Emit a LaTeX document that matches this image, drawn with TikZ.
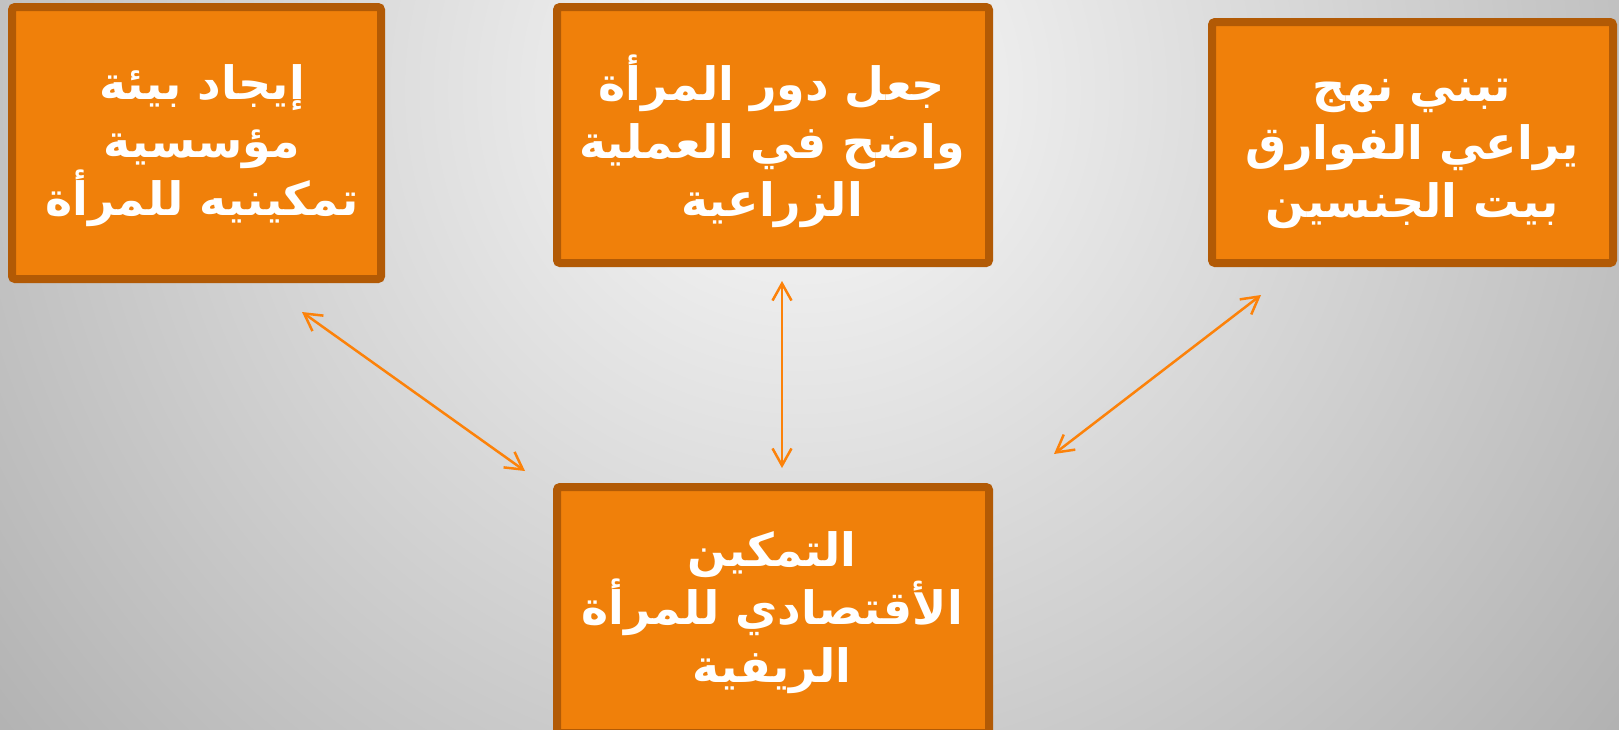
\documentclass[tikz,border=0pt]{standalone}
\usepackage{fontspec}
\newfontfamily\arabicfont[Script=Arabic]{DejaVu Sans}
\TeXXeTstate=1
\usetikzlibrary{arrows.meta}
\definecolor{boxfill}{RGB}{240,128,10}
\definecolor{boxline}{RGB}{178,90,5}
\definecolor{arrowc}{RGB}{252,130,10}
\definecolor{bginner}{RGB}{250,250,250}
\definecolor{bgouter}{RGB}{170,170,170}
\tikzset{
  box/.style={draw=boxline, fill=boxfill, line width=8pt, rounded corners=3pt, inner sep=0pt},
  txt/.style={text=white, align=center, inner sep=0pt,
    font=\arabicfont\bfseries\fontsize{46}{58}\selectfont},
  link/.style={draw=arrowc, line width=2.5pt,
    {Straight Barb[length=17pt,width=19pt]}-{Straight Barb[length=17pt,width=19pt]}}
}
\begin{document}
\begin{tikzpicture}[x=1pt,y=-1pt]
\useasboundingbox (0,0) rectangle (1619,729);
\begin{scope}
\clip (0,0) rectangle (1619,729);
\fill[inner color=bginner, outer color=bgouter] (800,90) circle (1150);
\end{scope}
\node[box, minimum width=369pt, minimum height=272pt] (env) at (196.5,143) {};
\node[box, minimum width=432pt, minimum height=256pt] (role) at (773,135) {};
\node[box, minimum width=401pt, minimum height=241pt] (gender) at (1412.5,142.5) {};
\node[box, minimum width=432pt, minimum height=246pt] (emp) at (773,610) {};
\node[txt] (envt) at (202,146)
  {\beginR إيجاد بيئة\endR\\ \beginR مؤسسية\endR\\ \beginR تمكينيه للمرأة\endR};
\node[txt] (rolet) at (772,141)
  {\beginR جعل دور المرأة\endR\\ \beginR واضح في العملية\endR\\ \beginR الزراعية\endR};
\node[txt] (gendert) at (1412,154)
  {\beginR تبني نهج\endR\\ \beginR يراعي الفوارق\endR\\ \beginR بيت الجنسين\endR};
\node[txt] (empt) at (772,613)
  {\beginR التمكين\endR\\ \beginR الأقتصادي للمرأة\endR\\ \beginR الريفية\endR};
\coordinate (a1s) at (302,312);
\coordinate (a1e) at (525,471);
\coordinate (a2s) at (782,281);
\coordinate (a2e) at (782,468);
\coordinate (a3s) at (1261,295);
\coordinate (a3e) at (1054,454);
\draw[link] (a1s) -- (a1e);
\draw[link] (a2s) -- (a2e);
\draw[link] (a3s) -- (a3e);
\end{tikzpicture}
\end{document}
